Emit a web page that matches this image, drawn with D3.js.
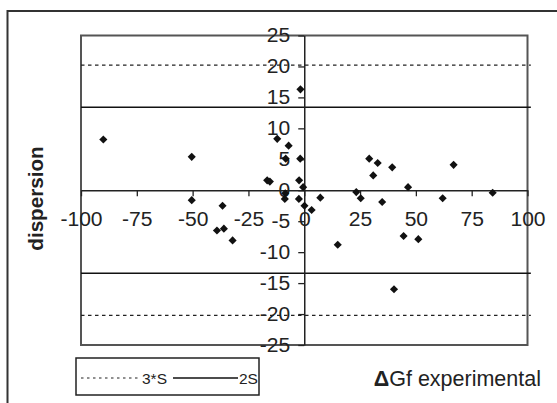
<!DOCTYPE html>
<html>
<head>
<meta charset="utf-8">
<script src="https://cdn.jsdelivr.net/npm/d3@7"></script>
<style>
  html, body { margin: 0; padding: 0; background: #fff; }
  svg { display: block; }
  text { font-family: "Liberation Sans", Arial, sans-serif; fill: #222; }
</style>
</head>
<body>
<svg id="chart" width="557" height="403"></svg>
<script>
// ---- data ----
const xValues = [-90.0, -50.4, -50.4, -39.1, -36.6, -36.0, -32.1, -16.6, -15.4, -12.1,
                 -8.3, -7.0, -8.5, -8.7, -2.4, -2.3, -1.8, -1.7, -0.5, 0.1,
                 3.3, 7.2, 15.0, 23.3, 25.3, 29.1, 30.9, 32.9, 34.9, 39.4,
                 40.2, 44.5, 46.5, 51.1, 62.0, 66.9, 84.4];
const yValues = [8.2, 5.4, -1.6, -6.5, -2.5, -6.2, -8.1, 1.6, 1.4, 8.3,
                 5.1, 7.2, -0.5, -1.4, -1.4, 1.6, 5.1, 16.3, 0.5, -2.5,
                 -3.2, -1.2, -8.8, -0.3, -1.3, 5.1, 2.4, 4.4, -1.9, 3.7,
                 -16.0, -7.4, 0.5, -7.9, -1.3, 4.1, -0.4];
const limitX = [-100, 101.5];           // x extent of the limit lines
const threeS = [20.2, -20.2];           // 3*S lines (dotted)
const twoS = [13.4, -13.4];             // 2S lines (solid)
const xTicks = [-100, -75, -50, -25, 0, 25, 50, 75, 100];
const yTicks = [25, 20, 15, 10, 5, 0, -5, -10, -15, -20, -25];
const legendLabels = ["3*S", "2S"];
const xTitle = "Gf experimental";
const yTitle = "dispersion";

// ---- drawing ----
const svg = d3.select("#chart");
const x = d3.scaleLinear().domain([-100, 100]).range([81, 527.5]);
const y = d3.scaleLinear().domain([-25, 25]).range([345, 35.5]);
const fmt = d => String(d);   // plain hyphen-minus

// outer frame
svg.append("rect").attr("x", 7.5).attr("y", 11).attr("width", 600).attr("height", 420)
  .attr("fill", "none").attr("stroke", "#333").attr("stroke-width", 2);

// plot area border
svg.append("rect").attr("x", x(-100)).attr("y", y(25))
  .attr("width", x(100) - x(-100)).attr("height", y(-25) - y(25))
  .attr("fill", "none").attr("stroke", "#555").attr("stroke-width", 2);

// limit lines
const line = d3.line().x(d => x(d[0])).y(d => y(d[1]));
threeS.forEach(v => {
  svg.append("path").attr("d", line(limitX.map(xx => [xx, v])))
    .attr("fill", "none").attr("stroke", "#222").attr("stroke-width", 1.3)
    .attr("stroke-dasharray", "3.5,3.5");
});
twoS.forEach(v => {
  svg.append("path").attr("d", line(limitX.map(xx => [xx, v])))
    .attr("fill", "none").attr("stroke", "#111").attr("stroke-width", 1.6);
});

// axes
const xAxis = d3.axisBottom(x).tickValues(xTicks).tickFormat(fmt)
  .tickSizeInner(6).tickSizeOuter(0).tickPadding(16);
const gx = svg.append("g").attr("transform", `translate(0,${y(0)})`).call(xAxis);
const yAxis = d3.axisLeft(y).tickValues(yTicks).tickFormat(fmt)
  .tickSizeInner(6).tickSizeOuter(0).tickPadding(7);
const gy = svg.append("g").attr("transform", `translate(${x(0)},0)`).call(yAxis);

[gx, gy].forEach(g => {
  g.select(".domain").attr("stroke", "#222").attr("stroke-width", 1.5);
  g.selectAll(".tick line").attr("stroke", "#222").attr("stroke-width", 1.3);
  g.selectAll(".tick text").attr("font-size", 19.5)
    .attr("transform", "scale(1.08,1)")
    .attr("font-family", "'Liberation Sans', Arial, sans-serif").attr("fill", "#222");
});

// points (diamonds)
const diamond = d3.symbol().type(d3.symbolDiamond2).size(42);
svg.append("g").selectAll("path").data(xValues.map((v, i) => [v, yValues[i]]))
  .join("path")
  .attr("transform", d => `translate(${x(d[0])},${y(d[1])})`)
  .attr("d", diamond)
  .attr("fill", "#111");

// y title
svg.append("text")
  .attr("transform", "translate(42.5,198.5) rotate(-90) scale(1.06,1)")
  .attr("text-anchor", "middle")
  .attr("font-size", 19.5).attr("font-weight", "bold")
  .text(yTitle);

// x title
const xt = svg.append("text").attr("x", 541).attr("y", 386)
  .attr("text-anchor", "end").attr("font-size", 21.5);
xt.append("tspan").attr("font-weight", "bold").text("\u0394");
xt.append("tspan").text(xTitle);

// legend
const lg = svg.append("g");
lg.append("rect").attr("x", 76).attr("y", 358).attr("width", 183).attr("height", 37)
  .attr("fill", "#fff").attr("stroke", "#222").attr("stroke-width", 1.5);
lg.append("line").attr("x1", 81).attr("x2", 140).attr("y1", 378).attr("y2", 378)
  .attr("stroke", "#222").attr("stroke-width", 1.2).attr("stroke-dasharray", "2.5,3.5");
lg.append("text").attr("x", 142).attr("y", 384).attr("font-size", 15.5).text(legendLabels[0]);
lg.append("line").attr("x1", 173).attr("x2", 238).attr("y1", 378).attr("y2", 378)
  .attr("stroke", "#111").attr("stroke-width", 1.5);
lg.append("text").attr("x", 239).attr("y", 384).attr("font-size", 15.5).text(legendLabels[1]);
</script>
</body>
</html>
